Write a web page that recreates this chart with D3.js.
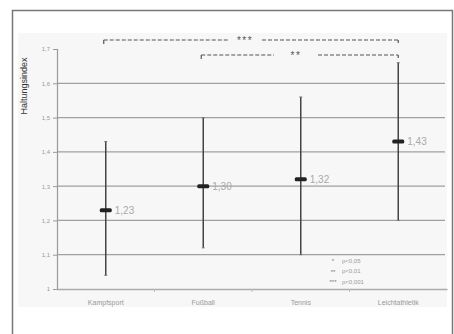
<!DOCTYPE html>
<html>
<head>
<meta charset="utf-8">
<script src="https://cdn.jsdelivr.net/npm/d3@7"></script>
<style>
  html, body { margin: 0; padding: 0; background: #fff; }
  svg { display: block; font-family: "Liberation Sans", Arial, sans-serif; }
</style>
</head>
<body>
<svg id="chart" width="454" height="334"></svg>
<script>
// Sportarten und Haltungsindex (Mittelwert mit Min/Max)
const categories = ["Kampfsport", "Fußball", "Tennis", "Leichtathletik"];
const means = [1.23, 1.30, 1.32, 1.43];
const lows = [1.04, 1.12, 1.10, 1.20];
const highs = [1.43, 1.50, 1.56, 1.66];
const meanLabels = ["1,23", "1,30", "1,32", "1,43"];
const yTicks = [1, 1.1, 1.2, 1.3, 1.4, 1.5, 1.6, 1.7];
const yTickLabels = ["1", "1,1", "1,2", "1,3", "1,4", "1,5", "1,6", "1,7"];
const brackets = [
  { from: "Kampfsport", to: "Leichtathletik", label: "***" },
  { from: "Fußball", to: "Leichtathletik", label: "**" }
];
const legendItems = [
  { mark: "*", text: "p<0,05" },
  { mark: "**", text: "p<0,01" },
  { mark: "***", text: "p<0,001" }
];

const svg = d3.select("#chart");

// äußerer Rahmen
svg.append("rect").attr("x", 12.5).attr("y", 10.5).attr("width", 440).attr("height", 340)
  .attr("fill", "#fff").attr("stroke", "#777").attr("stroke-width", 1.5);

// Diagrammfläche
svg.append("rect").attr("x", 18).attr("y", 33).attr("width", 429).attr("height", 274)
  .attr("fill", "#f7f7f7");

const x = d3.scaleBand().domain(categories).range([57, 447]);
const y = d3.scaleLinear().domain([1, 1.7]).range([289, 49]);
const cx = c => x(c) + x.bandwidth() / 2;

// Gitterlinien
svg.append("g").selectAll("line").data(yTicks.slice(1, -1)).join("line")
  .attr("x1", 57).attr("x2", 445)
  .attr("y1", d => y(d)).attr("y2", d => y(d))
  .attr("stroke", "#a0a0a0").attr("stroke-width", 1.2);

// y-Achse
const yAxis = d3.axisLeft(y).tickValues(yTicks).tickFormat((d, i) => yTickLabels[i]).tickSize(4).tickPadding(3);
const gy = svg.append("g").attr("transform", "translate(57,0)").call(yAxis);
gy.select(".domain").attr("stroke", "#999").attr("stroke-width", 1.2);
gy.selectAll(".tick line").attr("stroke", "#999");
gy.selectAll(".tick text").attr("fill", "#999").style("font-size", "6px");

// x-Achse
const xAxis = d3.axisBottom(x).tickSize(0).tickPadding(11);
const gx = svg.append("g").attr("transform", "translate(0,289)").call(xAxis);
gx.select(".domain").attr("stroke", "#aaa").attr("stroke-width", 1.4);
gx.selectAll(".tick text").attr("fill", "#999").style("font-size", "7px");
// Trennstriche zwischen den Kategorien
svg.append("g").selectAll("line").data(categories.slice(1)).join("line")
  .attr("x1", d => x(d)).attr("x2", d => x(d)).attr("y1", 289).attr("y2", 292)
  .attr("stroke", "#bbb");

// y-Achsentitel
svg.append("text").attr("transform", "translate(27,86) rotate(-90)")
  .attr("text-anchor", "middle").attr("fill", "#333").style("font-size", "9px")
  .text("Haltungsindex");

// Fehlerbalken
const g = svg.append("g");
categories.forEach((c, i) => {
  g.append("line").attr("x1", cx(c)).attr("x2", cx(c))
    .attr("y1", y(lows[i])).attr("y2", y(highs[i]))
    .attr("stroke", "#444").attr("stroke-width", 1.5);
  g.append("line").attr("x1", cx(c) - 1.5).attr("x2", cx(c) + 1.5)
    .attr("y1", y(highs[i])).attr("y2", y(highs[i]))
    .attr("stroke", "#777").attr("stroke-width", 1);
  g.append("line").attr("x1", cx(c) - 1.5).attr("x2", cx(c) + 1.5)
    .attr("y1", y(lows[i])).attr("y2", y(lows[i]))
    .attr("stroke", "#777").attr("stroke-width", 1);
  g.append("rect").attr("x", cx(c) - 6).attr("y", y(means[i]) - 2)
    .attr("width", 12).attr("height", 4).attr("rx", 1.5)
    .attr("fill", "#222");
  g.append("text").attr("x", cx(c) + 9).attr("y", y(means[i]) + 3.5)
    .attr("fill", "#aaa").style("font-size", "10px").text(meanLabels[i]);
});

// Signifikanzklammern
const bracketY = [40, 55];
brackets.forEach((b, i) => {
  const x1 = cx(b.from) - 2, x2 = cx(b.to), yy = bracketY[i];
  const mid = (i === 0) ? 245 : 296;
  const gap = (i === 0) ? 17 : 22;
  const bg = svg.append("g").attr("stroke", "#555").attr("stroke-width", 1.2).attr("fill", "none");
  bg.append("line").attr("x1", x1).attr("x2", x1).attr("y1", yy).attr("y2", yy + 4);
  bg.append("line").attr("x1", x2).attr("x2", x2).attr("y1", yy).attr("y2", yy + 3);
  bg.append("line").attr("x1", x1).attr("x2", mid - gap).attr("y1", yy).attr("y2", yy)
    .attr("stroke-dasharray", "4,2");
  bg.append("line").attr("x1", mid + gap).attr("x2", x2).attr("y1", yy).attr("y2", yy)
    .attr("stroke-dasharray", "4,2");
  svg.append("text").attr("x", mid).attr("y", yy + 4).attr("text-anchor", "middle")
    .attr("fill", "#555").style("font-size", "10px").style("letter-spacing", "1.5px").text(b.label);
});

// Legende
const lg = svg.append("g").attr("transform", "translate(333,260)");
legendItems.forEach((d, i) => {
  lg.append("text").attr("x", 0).attr("y", i * 10.5 + 3).attr("text-anchor", "middle")
    .attr("fill", "#777").style("font-size", "6px").text(d.mark);
  lg.append("text").attr("x", 9).attr("y", i * 10.5 + 2.5)
    .attr("fill", "#999").style("font-size", "6px").text(d.text);
});
</script>
</body>
</html>
